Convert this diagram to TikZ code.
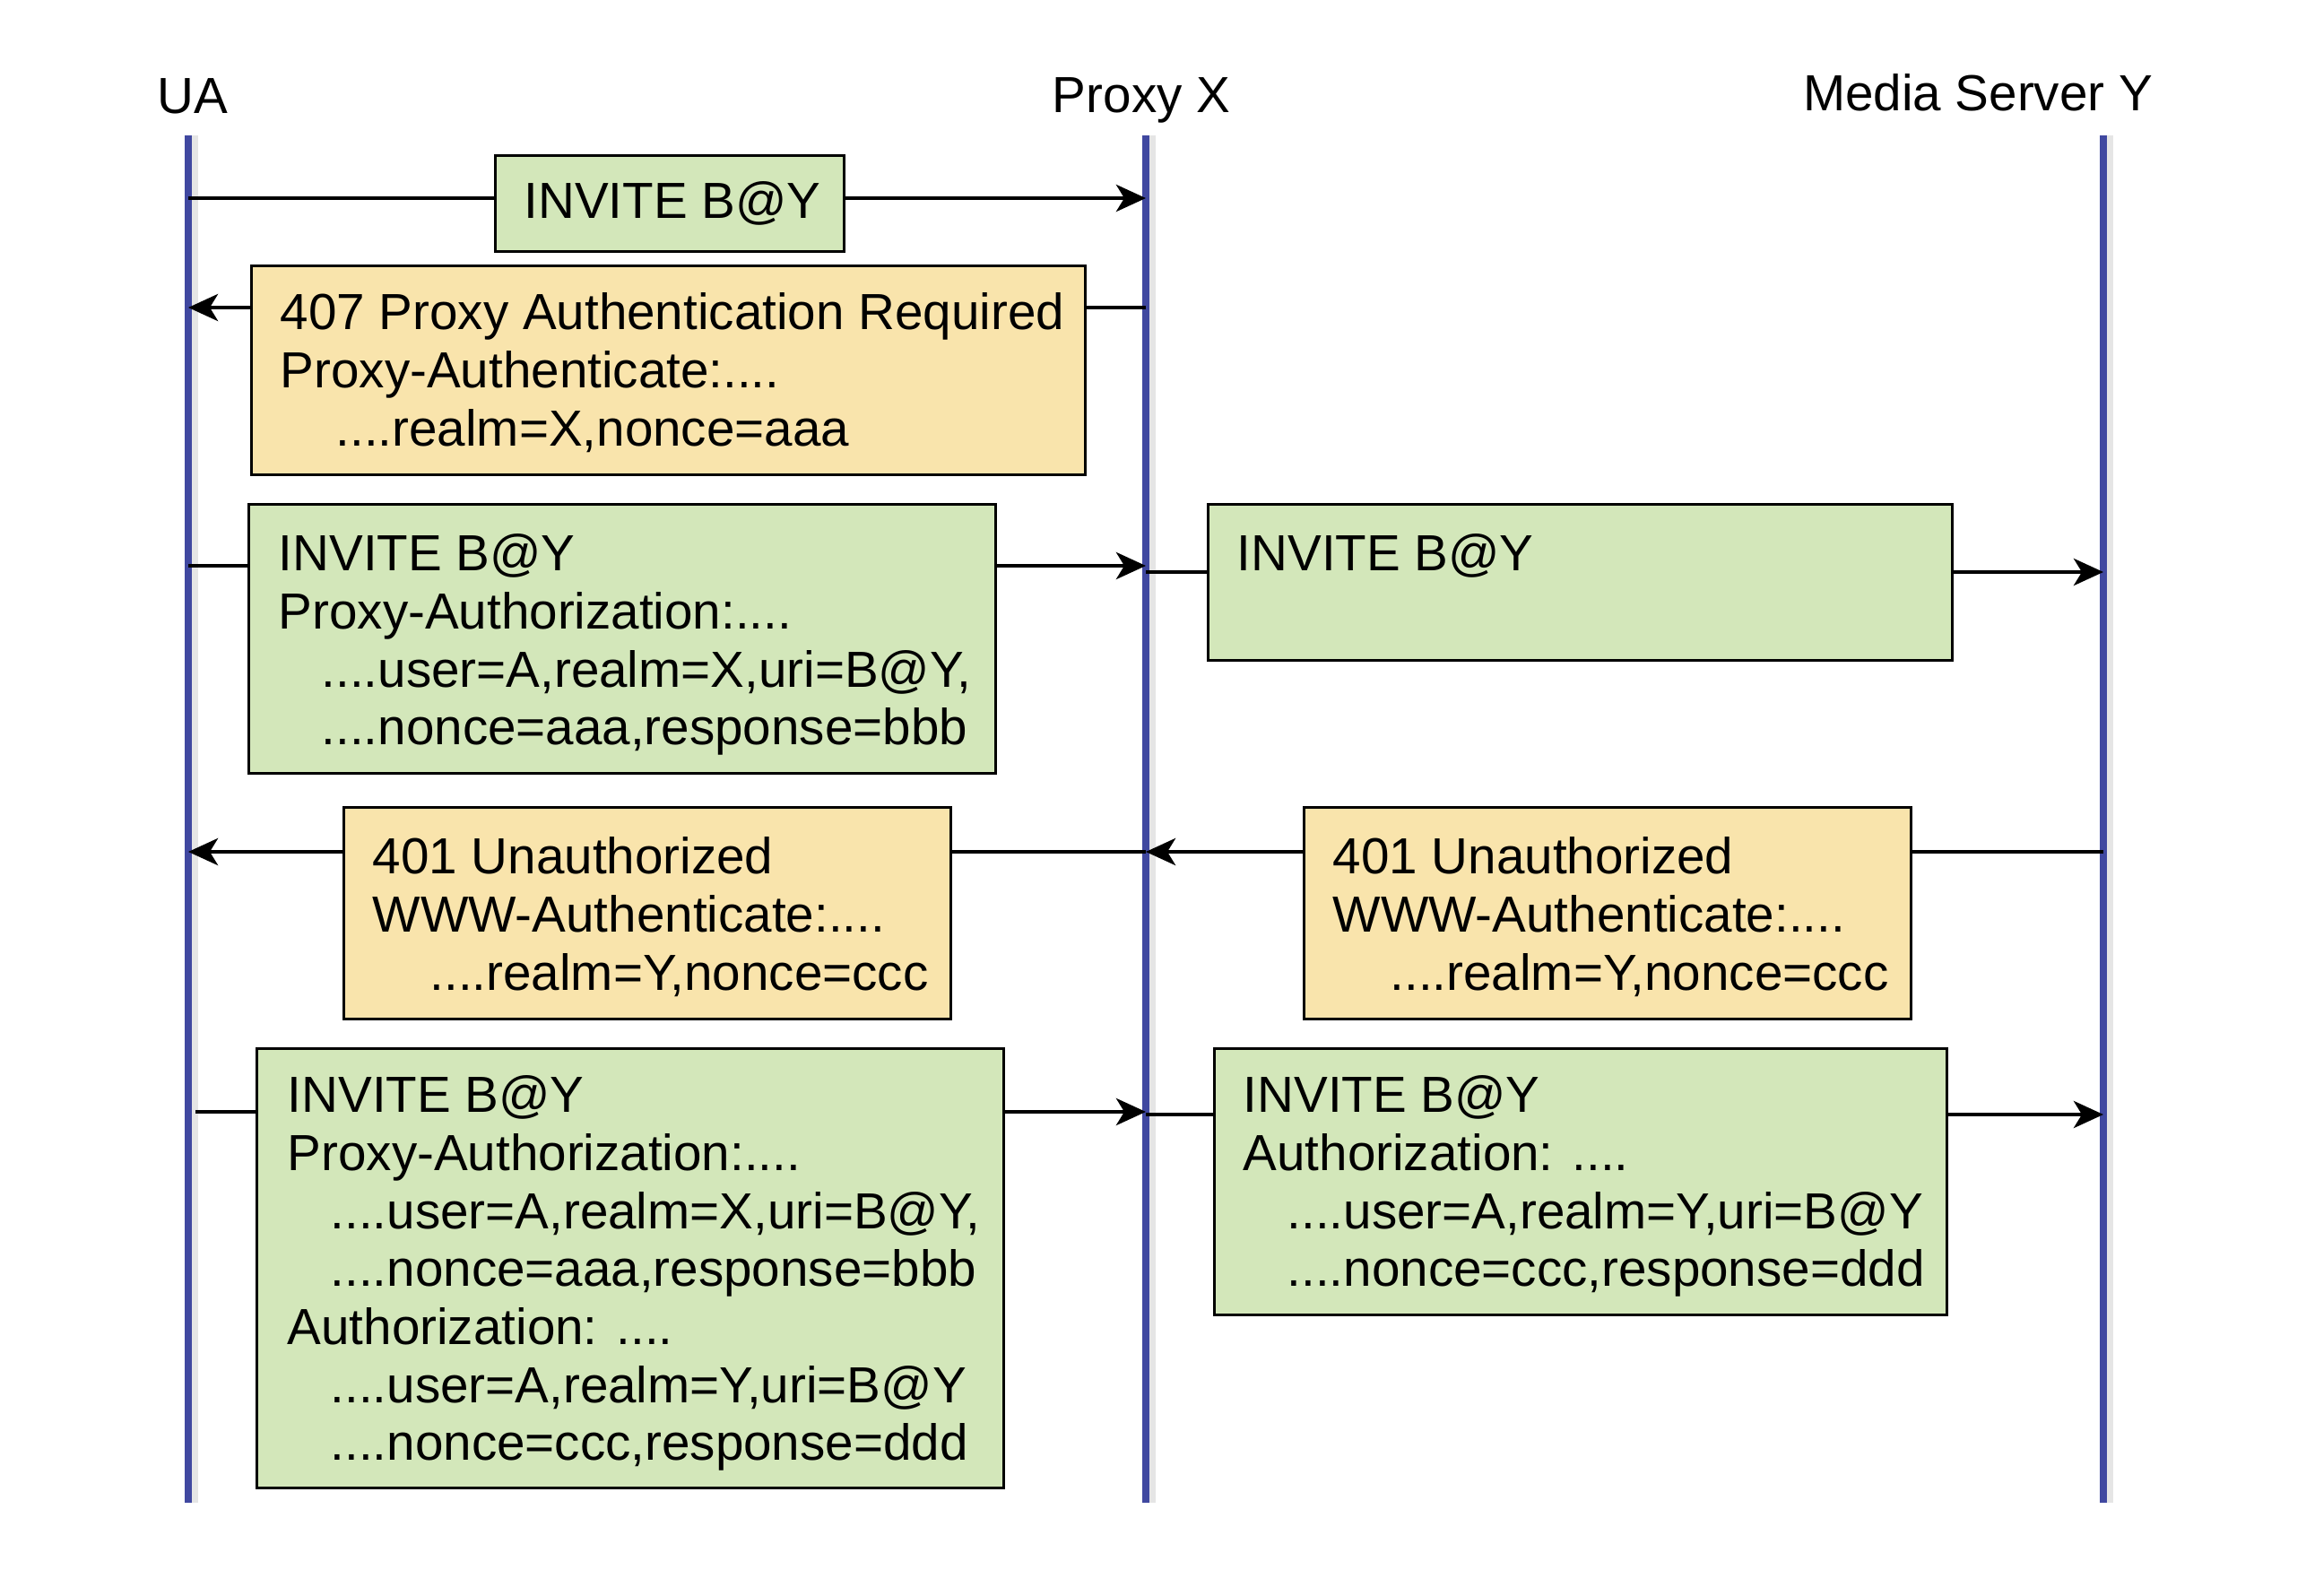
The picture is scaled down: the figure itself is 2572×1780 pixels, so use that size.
\documentclass[tikz,border=0pt]{standalone}
\usepackage{fontspec}
\setmainfont{Liberation Sans}
\usetikzlibrary{arrows.meta}
\definecolor{lifeblue}{RGB}{64,72,160}
\definecolor{boxgreen}{RGB}{211,231,186}
\definecolor{boxorange}{RGB}{249,228,172}
\newcommand\dfont{\fontsize{16.1}{18.4}\selectfont}
\begin{document}
\begin{tikzpicture}[x=0.1mm,y=-0.1mm,
  lifeline/.style={draw=lifeblue,line width=0.8mm},
  lifeshadow/.style={draw=black!10,line width=0.9mm},
  msg/.style={draw=black,line width=0.48mm,-{Stealth[length=3.3mm,width=3mm,inset=0.9mm]}},
  gbox/.style={draw=black,fill=boxgreen,line width=0.3mm,anchor=north west,inner sep=0pt,font=\dfont},
  obox/.style={draw=black,fill=boxorange,line width=0.3mm,anchor=north west,inner sep=0pt,font=\dfont},
  txt/.style={anchor=north west,inner sep=0pt,align=left,font=\dfont},
  actor/.style={inner sep=0pt,font=\dfont}]
\useasboundingbox (0,0) rectangle (2572,1780);

% lifelines
\coordinate (uaT) at (210,151);  \coordinate (uaB) at (210,1676);
\coordinate (pxT) at (1278,151); \coordinate (pxB) at (1278,1676);
\coordinate (msT) at (2346,151); \coordinate (msB) at (2346,1676);
\draw[lifeshadow] ([xshift=0.6mm]uaT) -- ([xshift=0.6mm]uaB);
\draw[lifeshadow] ([xshift=0.6mm]pxT) -- ([xshift=0.6mm]pxB);
\draw[lifeshadow] ([xshift=0.6mm]msT) -- ([xshift=0.6mm]msB);
\draw[lifeline] (uaT) -- (uaB);
\draw[lifeline] (pxT) -- (pxB);
\draw[lifeline] (msT) -- (msB);

% actor labels
\node[actor] (ua) at (215,107) {UA};
\node[actor] (px) at (1273,112) {Proxy X};
\node[actor] (ms) at (2206,103) {Media Server Y};

% arrow end points
\coordinate (a1s) at (210,221);  \coordinate (a1e) at (1278,221);
\coordinate (a2s) at (1278,343); \coordinate (a2e) at (210,343);
\coordinate (a3s) at (210,631);  \coordinate (a3e) at (1278,631);
\coordinate (a4s) at (1278,638); \coordinate (a4e) at (2346,638);
\coordinate (a5s) at (1278,950); \coordinate (a5e) at (210,950);
\coordinate (a6s) at (2346,950); \coordinate (a6e) at (1278,950);
\coordinate (a7s) at (218,1240); \coordinate (a7e) at (1278,1240);
\coordinate (a8s) at (1278,1243);\coordinate (a8e) at (2346,1243);
\foreach \i in {1,...,8} {\draw[msg] (a\i s) -- (a\i e);}

% message boxes
\node[gbox,minimum width=38.9mm,minimum height=10.7mm] (b1) at (551,172) {\hspace*{0.6mm}INVITE B@Y};
\node[obox,minimum width=93.0mm,minimum height=23.3mm] (b2) at (279,295) {};
\node[gbox,minimum width=83.3mm,minimum height=30.0mm] (b3) at (276,561) {};
\node[gbox,minimum width=83.0mm,minimum height=17.4mm] (b4) at (1346,561) {};
\node[obox,minimum width=67.7mm,minimum height=23.6mm] (b5) at (382,899) {};
\node[obox,minimum width=67.7mm,minimum height=23.6mm] (b6) at (1453,899) {};
\node[gbox,minimum width=83.3mm,minimum height=49.0mm] (b7) at (285,1168) {};
\node[gbox,minimum width=81.7mm,minimum height=29.7mm] (b8) at (1353,1168) {};

% box texts
\node[txt] (t2) at (312,326) {407 Proxy Authentication Required\\Proxy-Authenticate:....\\\hspace*{6.2mm}....realm=X,nonce=aaa};
\node[txt] (t3) at (310,595) {INVITE B@Y\\Proxy-Authorization:....\\\hspace*{4.8mm}....user=A,realm=X,uri=B@Y,\\\hspace*{4.8mm}....nonce=aaa,response=bbb};
\node[txt] (t4) at (1379,595) {INVITE B@Y};
\node[txt] (t5) at (415,933) {401 Unauthorized\\WWW-Authenticate:....\\\hspace*{6.4mm}....realm=Y,nonce=ccc};
\node[txt] (t6) at (1486,933) {401 Unauthorized\\WWW-Authenticate:....\\\hspace*{6.4mm}....realm=Y,nonce=ccc};
\node[txt] (t7) at (320,1199) {INVITE B@Y\\Proxy-Authorization:....\\\hspace*{4.8mm}....user=A,realm=X,uri=B@Y,\\\hspace*{4.8mm}....nonce=aaa,response=bbb\\Authorization: ....\\\hspace*{4.8mm}....user=A,realm=Y,uri=B@Y\\\hspace*{4.8mm}....nonce=ccc,response=ddd};
\node[txt] (t8) at (1386,1199) {INVITE B@Y\\Authorization: ....\\\hspace*{4.9mm}....user=A,realm=Y,uri=B@Y\\\hspace*{4.9mm}....nonce=ccc,response=ddd};
\end{tikzpicture}
\end{document}
